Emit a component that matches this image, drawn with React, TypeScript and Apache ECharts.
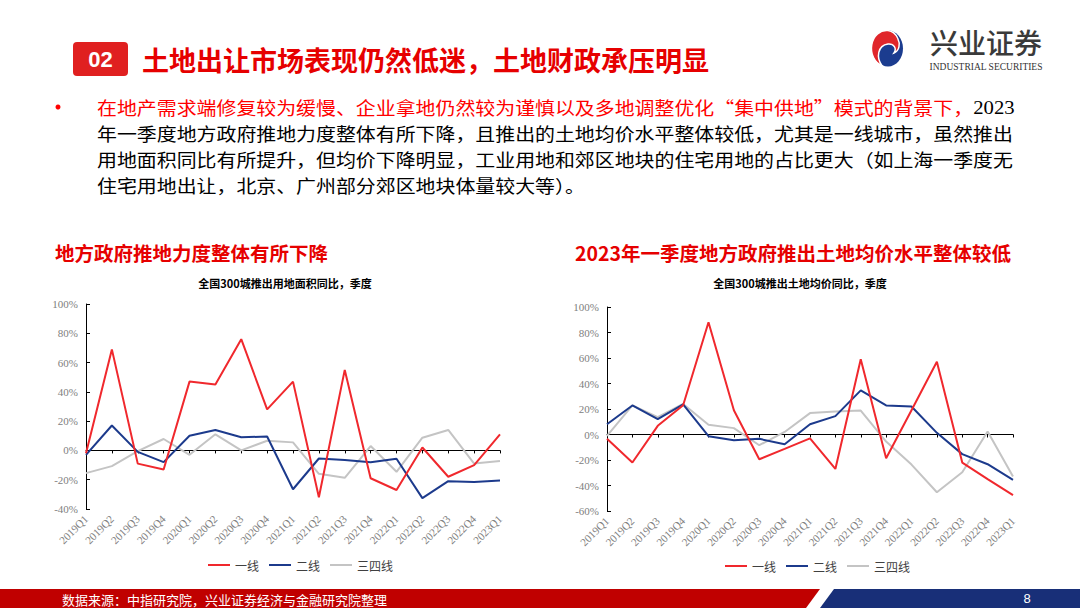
import React, { useEffect, useRef } from "react";
import * as echarts from "echarts";

const categories = ["2019Q1","2019Q2","2019Q3","2019Q4","2020Q1","2020Q2","2020Q3","2020Q4","2021Q1","2021Q2","2021Q3","2021Q4","2022Q1","2022Q2","2022Q3","2022Q4","2023Q1"];
const seriesNames = ["一线", "二线", "三四线"];

// 推出用地面积同比
const areaTier1 = [-2, 69, -9, -13, 47, 45, 76, 28, 47, -32, 55, -19, -27, 2, -18, -10, 11];
const areaTier2 = [-3, 17, -1, -8, 10, 14, 9, 9.5, -26.5, -5.5, -6.5, -8, -5.7, -32.6, -21, -21.5, -20.5];
const areaTier34 = [-15.5, -10.7, -0.5, 7.8, -3, 11, 0, 6.6, 5.5, -16, -18.7, 3, -14.6, 8.7, 14, -9, -7.3];

// 推出土地均价同比
const priceTier1 = [-3.4, -22, 6.8, 23, 88, 19, -19.4, -11.3, -3, -27, 59, -18.6, 19, 57, -22, -35, -47.6];
const priceTier2 = [8, 22.8, 12, 23.6, -1.3, -4.5, -3.4, -7.6, 8, 14.4, 34.6, 22.8, 22, 1.3, -15.4, -23.3, -35.6];
const priceTier34 = [-1, 22.8, 13.6, 24, 7.6, 5, -8.4, 2, 16.8, 18, 18.8, -5.5, -23.6, -45.3, -29.6, 2.4, -33];

const lineColors = ["#f0282d", "#1c3a8c", "#c4c4c4"];

const paragraphLines = [
  "年一季度地方政府推地力度整体有所下降，且推出的土地均价水平整体较低，尤其是一线城市，虽然推出",
  "用地面积同比有所提升，但均价下降明显，工业用地和郊区地块的住宅用地的占比更大（如上海一季度无",
  "住宅用地出让，北京、广州部分郊区地块体量较大等）。",
];
const paragraphFirstRed = "在地产需求端修复较为缓慢、企业拿地仍然较为谨慎以及多地调整优化“集中供地”模式的背景下，";

echarts.graphic.registerShape(
  "logoRed",
  echarts.graphic.extendPath(
    "M50 0 A50 60 0 0 0 30 117 C 10 90 15 50 50 45 C 70 43 80 60 70 75 C 88 68 92 45 82 25 C 75 10 62 2 50 0 Z",
    {}
  )
);

const CJK = "Noto Sans CJK SC";
const SERIF = "Liberation Serif";

function txt(x: number, y: number, text: string, o: any = {}) {
  const align = o.align || "left";
  const fontSize = o.fontSize || 12;
  return {
    type: "text",
    x,
    y,
    silent: true,
    style: {
      text,
      fill: o.fill || "#000",
      fontSize,
      fontFamily: o.fontFamily || CJK,
      fontWeight: o.fontWeight || "normal",
      lineHeight: o.lineHeight || Math.round(fontSize * 1.05),
      align,
      textAlign: align,
      verticalAlign: "middle",
      textVerticalAlign: "middle",
    },
  };
}

const PARA_SIZE = 17.8;
const PARA_SCALE_X = 1.12;

function richLine(x: number, y: number, text: string) {
  return {
    type: "text",
    x,
    y,
    scaleX: PARA_SCALE_X,
    silent: true,
    style: {
      text,
      verticalAlign: "middle",
      textVerticalAlign: "middle",
      rich: {
        r: { fill: "#ff0000", fontSize: PARA_SIZE, fontFamily: CJK, lineHeight: 20 },
        b: { fill: "#000", fontSize: PARA_SIZE, fontFamily: CJK, lineHeight: 20 },
        k: { fill: "#000", fontSize: 18.5, fontFamily: SERIF, lineHeight: 20 },
      },
    },
  };
}

function makeAxes(gridIndex: number) {
  return [
    {
      type: "category",
      gridIndex,
      data: categories,
      boundaryGap: false,
      axisLine: { onZero: true, lineStyle: { color: "#000", width: 1 } },
      axisTick: { show: true, length: 3, interval: 0, lineStyle: { color: "#000" } },
      axisLabel: { show: false },
      splitLine: { show: false },
    },
    {
      type: "category",
      gridIndex,
      position: "bottom",
      data: categories,
      boundaryGap: false,
      axisLine: { show: false, onZero: false },
      axisTick: { show: false },
      axisLabel: {
        show: true,
        interval: 0,
        rotate: 45,
        margin: 8,
        fontSize: 11,
        color: "#808080",
        fontFamily: SERIF,
      },
      splitLine: { show: false },
    },
  ];
}

function makeYAxis(gridIndex: number, min: number) {
  return {
    type: "value",
    gridIndex,
    min,
    max: 100,
    interval: 20,
    axisLine: { show: true, lineStyle: { color: "#000", width: 1 } },
    axisTick: { show: true, inside: true, length: 4, lineStyle: { color: "#000" } },
    axisLabel: {
      formatter: "{value}%",
      fontSize: 11,
      color: "#808080",
      fontFamily: SERIF,
      margin: 8,
    },
    splitLine: { show: false },
  };
}

function makeSeries(data: number[][], xAxisIndex: number, yAxisIndex: number) {
  return data.map((d, i) => ({
    type: "line",
    name: seriesNames[i],
    data: d,
    xAxisIndex,
    yAxisIndex,
    symbol: "none",
    lineStyle: { color: lineColors[i], width: 2 },
    itemStyle: { color: lineColors[i] },
    z: 3 - i,
  }));
}

export default function App() {
  const ref = useRef<HTMLDivElement>(null);
  useEffect(() => {
    if (!ref.current) return;
    const chart = echarts.init(ref.current, undefined, { renderer: "svg" });

    const graphics: any[] = [
      // header box
      { type: "rect", shape: { x: 73, y: 42, width: 55, height: 34, r: 4 }, style: { fill: "#e02020" } },
      txt(100.5, 59.5, "02", { fill: "#fff", fontSize: 22, fontWeight: "bold", fontFamily: "Liberation Sans", align: "center" }),
      txt(142, 59.5, "土地出让市场表现仍然低迷，土地财政承压明显", { fill: "#e60000", fontSize: 27, fontWeight: "bold" }),
      // logo
      { type: "ellipse", shape: { cx: 888, cy: 48.5, rx: 15, ry: 18 }, style: { fill: "#1b3c8f" } },
      { type: "logoRed", x: 873, y: 30.5, scaleX: 0.3, scaleY: 0.3, style: { fill: "#e0262b", stroke: "#fff", lineWidth: 5 } },
      txt(986, 41.5, "兴业证券", { fill: "#3a3a3a", fontSize: 28, fontWeight: "500", align: "center", lineHeight: 28 }),
      txt(986, 66.5, "INDUSTRIAL SECURITIES", { fill: "#333", fontSize: 9.5, fontFamily: SERIF, align: "center", lineHeight: 9 }),
      // bullet
      { type: "circle", shape: { cx: 58, cy: 107, r: 2.5 }, style: { fill: "#ff0000" } },
      richLine(97, 107, "{r|" + paragraphFirstRed + "}{k|2023}"),
      ...paragraphLines.map((l, i) => richLine(97, 133 + i * 26, "{b|" + l + "}")),
      // subtitles
      txt(55, 252, "地方政府推地力度整体有所下降", { fill: "#e60000", fontSize: 19.5, fontWeight: "bold" }),
      txt(575, 252, "2023年一季度地方政府推出土地均价水平整体较低", { fill: "#e60000", fontSize: 19.5, fontWeight: "bold" }),
      // chart titles
      txt(285, 283, "全国300城推出用地面积同比，季度", { fontSize: 11, fontWeight: "bold", align: "center" }),
      txt(800, 283, "全国300城推出土地均价同比，季度", { fontSize: 11, fontWeight: "bold", align: "center" }),
      // footer
      { type: "polygon", shape: { points: [[0, 589], [820, 589], [806, 608], [0, 608]] }, style: { fill: "#c00000" } },
      { type: "polygon", shape: { points: [[834, 589], [1080, 589], [1080, 608], [820, 608]] }, style: { fill: "#182f78" } },
      txt(62, 599, "数据来源：中指研究院，兴业证券经济与金融研究院整理", { fill: "#fff", fontSize: 13 }),
      txt(1027, 598.5, "8", { fill: "#fff", fontSize: 13, fontFamily: "Liberation Sans", align: "center" }),
    ];

    const legendBase = {
      data: seriesNames,
      icon: "rect",
      itemWidth: 22,
      itemHeight: 2,
      itemGap: 10,
      textStyle: { fontSize: 12, color: "#404040", fontFamily: CJK },
      selectedMode: false,
    };

    const option: any = {
      animation: false,
      backgroundColor: "#fff",
      textStyle: { fontFamily: CJK },
      grid: [
        { left: 86, top: 304, width: 414, height: 205, containLabel: false },
        { left: 607, top: 307, width: 406, height: 204, containLabel: false },
      ],
      xAxis: [...makeAxes(0), ...makeAxes(1)],
      yAxis: [makeYAxis(0, -40), makeYAxis(1, -60)],
      legend: [
        { ...legendBase, left: 203, top: 554 },
        { ...legendBase, left: 720, top: 555 },
      ],
      series: [
        ...makeSeries([areaTier1, areaTier2, areaTier34], 0, 0),
        ...makeSeries([priceTier1, priceTier2, priceTier34], 2, 1),
      ],
      graphic: graphics,
    };
    chart.setOption(option);
    return () => chart.dispose();
  }, []);

  return (
    <div
      ref={ref}
      style={{ position: "fixed", left: 0, top: 0, width: 1080, height: 608, background: "#fff" }}
    />
  );
}
